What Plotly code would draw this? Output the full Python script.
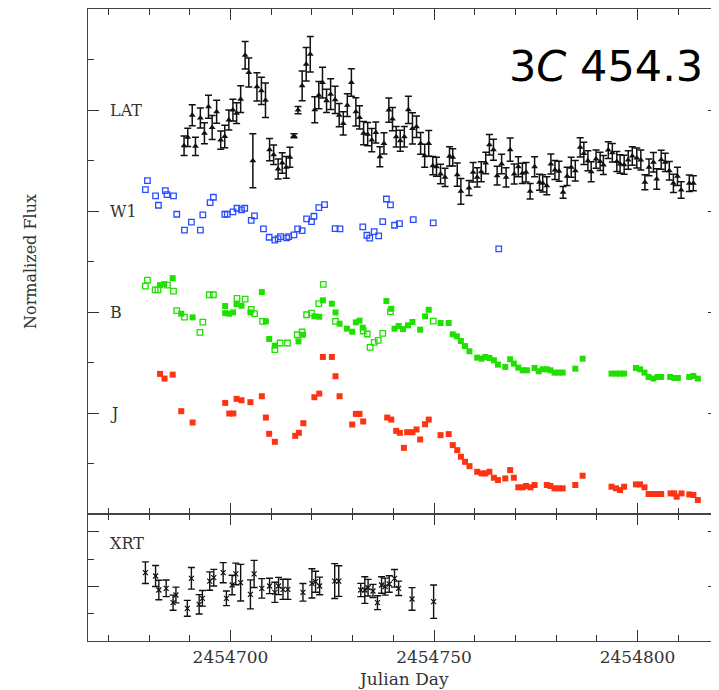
import plotly.graph_objects as go

# ---------------- data (Julian Day, normalized flux offsets) ----------------
lat_jd = [2454688.6, 2454689.5, 2454690.6, 2454691.4, 2454692.6, 2454693.6, 2454694.6, 2454695.5,
          2454696.6, 2454697.6, 2454698.6, 2454699.6, 2454700.6, 2454701.5, 2454702.5, 2454703.6,
          2454704.5, 2454705.5, 2454706.5, 2454707.6, 2454708.6, 2454709.6, 2454710.6, 2454711.7,
          2454712.7, 2454713.7, 2454714.6, 2454715.6, 2454716.6, 2454717.6, 2454718.6, 2454719.6,
          2454720.7, 2454721.7, 2454722.6, 2454723.6, 2454724.6, 2454725.7, 2454726.7, 2454727.7,
          2454728.7, 2454729.7, 2454730.8, 2454731.7, 2454732.7, 2454733.7, 2454734.7, 2454735.7,
          2454736.7, 2454737.7, 2454738.9, 2454739.8, 2454740.7, 2454741.7, 2454742.7, 2454743.7,
          2454744.7, 2454745.7, 2454746.7, 2454747.7, 2454748.7, 2454749.7, 2454750.6, 2454751.6,
          2454752.7, 2454753.8, 2454754.6, 2454755.7, 2454756.6, 2454758.6, 2454759.6, 2454760.6,
          2454761.6, 2454762.7, 2454763.6, 2454764.6, 2454765.5, 2454766.6, 2454767.7, 2454768.7,
          2454769.7, 2454770.7, 2454771.7, 2454772.6, 2454773.6, 2454774.7, 2454775.9, 2454776.7,
          2454777.7, 2454778.7, 2454779.7, 2454780.7, 2454781.7, 2454782.7, 2454783.7, 2454784.7,
          2454785.9, 2454786.8, 2454787.8, 2454788.6, 2454789.8, 2454790.8, 2454791.6, 2454792.8,
          2454793.8, 2454794.9, 2454795.7, 2454796.7, 2454797.7, 2454798.7, 2454799.8, 2454800.8,
          2454801.8, 2454802.8, 2454803.9, 2454804.7, 2454805.8, 2454806.8, 2454807.8, 2454808.8,
          2454809.8, 2454810.7, 2454812.7, 2454813.7]
lat_flux = [3.646, 3.729, 3.949, 3.640, 3.920, 3.771, 4.032, 3.827, 3.982, 3.702, 3.738, 3.900,
            3.999, 3.969, 4.107, 4.542, 4.371, 3.498, 4.229, 4.190, 4.097, 3.607, 3.557, 3.416,
            3.475, 3.432, 3.531, 3.745, 3.999, 4.239, 4.453, 4.552, 4.002, 4.147, 4.272, 4.091,
            4.157, 4.101, 3.949, 3.867, 4.048, 4.272, 3.982, 3.926, 3.771, 3.761, 3.702, 3.778,
            3.538, 3.669, 3.999, 3.910, 3.735, 3.696, 3.735, 4.002, 3.818, 3.834, 3.669, 3.547,
            3.669, 3.449, 3.439, 3.366, 3.333, 3.541, 3.531, 3.360, 3.195, 3.228, 3.383, 3.333,
            3.389, 3.475, 3.656, 3.607, 3.350, 3.465, 3.333, 3.607, 3.366, 3.439, 3.373, 3.383,
            3.195, 3.439, 3.284, 3.274, 3.251, 3.465, 3.406, 3.393, 3.185, 3.343, 3.432, 3.399,
            3.630, 3.570, 3.498, 3.389, 3.514, 3.491, 3.455, 3.603, 3.577, 3.491, 3.465, 3.458,
            3.505, 3.544, 3.524, 3.505, 3.284, 3.432, 3.482, 3.317, 3.508, 3.482, 3.399, 3.274,
            3.343, 3.208, 3.274, 3.274]
lat_err = [0.096, 0.091, 0.104, 0.091, 0.099, 0.104, 0.114, 0.119, 0.114, 0.091, 0.112, 0.099,
           0.107, 0.102, 0.132, 0.137, 0.143, 0.267, 0.140, 0.135, 0.171, 0.110, 0.096, 0.099,
           0.102, 0.107, 0.099, 0.020, 0.036, 0.148, 0.165, 0.176, 0.128, 0.135, 0.152, 0.115,
           0.152, 0.135, 0.115, 0.115, 0.112, 0.137, 0.140, 0.115, 0.115, 0.115, 0.115, 0.104,
           0.099, 0.105, 0.120, 0.115, 0.102, 0.104, 0.102, 0.135, 0.155, 0.107, 0.107, 0.115,
           0.128, 0.091, 0.094, 0.096, 0.091, 0.096, 0.086, 0.115, 0.127, 0.074, 0.096, 0.096,
           0.099, 0.107, 0.102, 0.104, 0.092, 0.096, 0.096, 0.115, 0.099, 0.099, 0.100, 0.096,
           0.077, 0.099, 0.079, 0.086, 0.089, 0.099, 0.094, 0.099, 0.058, 0.091, 0.099, 0.102,
           0.096, 0.110, 0.099, 0.099, 0.091, 0.091, 0.094, 0.082, 0.091, 0.099, 0.091, 0.094,
           0.091, 0.091, 0.099, 0.099, 0.074, 0.082, 0.096, 0.102, 0.094, 0.091, 0.091, 0.091,
           0.091, 0.082, 0.082, 0.074]

w1_jd = [2454679.1, 2454679.6, 2454681.6, 2454682.3, 2454684.0, 2454684.4, 2454686.0, 2454686.8,
         2454688.7, 2454690.4, 2454692.6, 2454693.2, 2454695.0, 2454695.8, 2454698.6, 2454699.2,
         2454700.6, 2454701.6, 2454702.7, 2454703.5, 2454705.1, 2454705.9, 2454708.1, 2454709.5,
         2454710.9, 2454711.7, 2454712.3, 2454713.8, 2454714.3, 2454715.6, 2454716.5, 2454717.6,
         2454718.7, 2454719.9, 2454720.5, 2454721.7, 2454723.1, 2454725.7, 2454726.9, 2454732.5,
         2454733.5, 2454734.2, 2454735.3, 2454736.4, 2454737.4, 2454738.3, 2454739.3, 2454740.3,
         2454741.5, 2454744.9, 2454749.8, 2454765.9]
w1_flux = [3.211, 3.300, 3.149, 3.057, 3.202, 3.162, 3.149, 2.968, 2.810, 2.889, 2.810, 2.961,
           3.083, 3.136, 2.968, 2.968, 2.991, 3.027, 3.011, 3.027, 2.908, 2.951, 2.823, 2.740,
           2.711, 2.727, 2.747, 2.734, 2.747, 2.763, 2.823, 2.806, 2.922, 2.895, 2.948, 3.034,
           3.063, 2.826, 2.823, 2.843, 2.760, 2.731, 2.796, 2.754, 2.895, 3.119, 3.060, 2.859,
           2.875, 2.915, 2.882, 2.625]

b_open_jd = [2454679.1, 2454679.6, 2454681.5, 2454682.2, 2454684.5, 2454686.0, 2454686.8, 2454688.7,
             2454692.5, 2454693.2, 2454694.8, 2454695.8, 2454701.6, 2454703.6, 2454705.1, 2454705.9,
             2454707.9, 2454710.9, 2454712.2, 2454714.0, 2454716.4, 2454717.6, 2454718.7, 2454719.9,
             2454721.7, 2454722.8, 2454725.8, 2454732.6, 2454733.6, 2454734.3, 2454735.3, 2454736.3,
             2454737.4, 2454739.3, 2454749.8]
b_open_flux = [2.256, 2.316, 2.220, 2.220, 2.266, 2.207, 2.013, 1.950, 1.798, 1.900, 2.171, 2.171,
               2.134, 2.128, 2.026, 1.983, 1.907, 1.627, 1.693, 1.693, 1.775, 1.802, 1.973, 1.989,
               2.082, 2.273, 1.907, 1.812, 1.782, 1.650, 1.700, 1.719, 1.789, 2.003, 1.910]

b_fill_jd = [2454682.7, 2454683.7, 2454685.8, 2454687.9, 2454690.7, 2454698.7, 2454698.7, 2454699.7,
             2454700.6, 2454701.5, 2454702.7, 2454704.9, 2454707.7, 2454708.7, 2454709.5, 2454710.9,
             2454716.7, 2454717.8, 2454720.6, 2454721.8, 2454722.7, 2454724.9, 2454725.8, 2454726.8,
             2454728.6, 2454729.9, 2454730.8, 2454731.7, 2454732.5, 2454738.3, 2454739.5, 2454740.3,
             2454741.3, 2454742.4, 2454743.6, 2454744.7, 2454746.6, 2454747.8, 2454748.7, 2454751.6,
             2454753.6, 2454754.6, 2454755.6, 2454756.6, 2454757.6, 2454758.7, 2454760.6, 2454761.7,
             2454762.6, 2454763.6, 2454764.7, 2454765.7, 2454767.5, 2454768.7, 2454769.6, 2454770.7,
             2454771.8, 2454772.8, 2454774.7, 2454775.7, 2454776.7, 2454777.7, 2454778.6, 2454779.6,
             2454780.6, 2454781.6, 2454784.7, 2454786.5, 2454793.6, 2454794.7, 2454795.7, 2454796.7,
             2454799.6, 2454800.6, 2454801.7, 2454802.7, 2454803.9, 2454804.9, 2454805.8, 2454808.0,
             2454809.0, 2454809.9, 2454812.7, 2454813.7, 2454814.8]
b_fill_flux = [2.266, 2.276, 2.335, 1.983, 1.947, 2.059, 1.989, 1.983, 1.996, 2.078, 2.062, 1.996,
               2.197, 1.907, 1.733, 1.667, 1.709, 1.775, 1.957, 1.953, 2.115, 2.082, 1.996, 1.884,
               1.835, 1.805, 1.897, 1.914, 1.845, 2.108, 2.032, 1.835, 1.861, 1.831, 1.868, 1.901,
               1.825, 1.957, 2.022, 1.891, 1.891, 1.779, 1.759, 1.713, 1.663, 1.611, 1.548, 1.538,
               1.555, 1.545, 1.522, 1.479, 1.456, 1.532, 1.489, 1.449, 1.423, 1.423, 1.446, 1.413,
               1.433, 1.433, 1.423, 1.400, 1.400, 1.400, 1.439, 1.538, 1.390, 1.390, 1.390, 1.390,
               1.446, 1.433, 1.400, 1.357, 1.341, 1.357, 1.357, 1.357, 1.347, 1.347, 1.357, 1.367,
               1.341]

j_jd = [2454682.7, 2454683.8, 2454685.8, 2454687.9, 2454690.7, 2454698.7, 2454699.7, 2454700.7,
        2454701.5, 2454702.7, 2454704.9, 2454707.7, 2454708.7, 2454709.5, 2454710.9, 2454715.9,
        2454716.8, 2454717.9, 2454720.6, 2454721.8, 2454722.7, 2454724.9, 2454725.8, 2454726.8,
        2454729.9, 2454730.8, 2454731.7, 2454732.6, 2454738.5, 2454739.5, 2454740.7, 2454741.6,
        2454742.6, 2454743.4, 2454744.7, 2454745.7, 2454746.6, 2454747.8, 2454748.7, 2454751.6,
        2454753.6, 2454754.6, 2454755.7, 2454756.6, 2454757.6, 2454758.7, 2454760.6, 2454761.7,
        2454762.6, 2454763.6, 2454764.7, 2454765.7, 2454767.5, 2454768.7, 2454769.6, 2454770.7,
        2454771.8, 2454772.6, 2454773.7, 2454774.7, 2454777.7, 2454778.6, 2454779.6, 2454780.6,
        2454781.6, 2454784.7, 2454786.5, 2454793.6, 2454794.7, 2454795.7, 2454796.7, 2454799.6,
        2454800.6, 2454801.7, 2454802.7, 2454803.9, 2454804.9, 2454805.8, 2454808.1, 2454809.0,
        2454809.6, 2454810.8, 2454812.7, 2454813.7, 2454814.8]
j_flux = [1.387, 1.341, 1.380, 1.018, 0.906, 1.100, 0.995, 0.995, 1.140, 1.126, 1.107, 1.166,
          0.955, 0.794, 0.715, 0.774, 0.804, 0.899, 1.156, 1.192, 1.555, 1.555, 1.364, 1.166,
          0.886, 0.991, 0.991, 0.916, 0.955, 0.935, 0.823, 0.804, 0.655, 0.810, 0.810, 0.837,
          0.738, 0.889, 0.935, 0.781, 0.791, 0.682, 0.632, 0.567, 0.517, 0.474, 0.418, 0.402,
          0.402, 0.418, 0.359, 0.336, 0.352, 0.435, 0.359, 0.264, 0.264, 0.277, 0.264, 0.287,
          0.287, 0.277, 0.254, 0.254, 0.254, 0.287, 0.379, 0.270, 0.254, 0.237, 0.270, 0.293,
          0.293, 0.264, 0.198, 0.198, 0.198, 0.198, 0.204, 0.204, 0.171, 0.204, 0.194, 0.188,
          0.138]

xrt_jd = [2454679.1, 2454681.6, 2454682.4, 2454684.2, 2454685.9, 2454686.6, 2454689.4, 2454690.4,
          2454692.3, 2454693.1, 2454694.9, 2454695.9, 2454698.2, 2454699.0, 2454700.4, 2454701.3,
          2454702.5, 2454704.9, 2454705.8, 2454707.7, 2454709.6, 2454710.9, 2454711.8, 2454712.9,
          2454714.1, 2454717.8, 2454720.0, 2454720.9, 2454721.9, 2454725.6, 2454726.6, 2454732.0,
          2454733.0, 2454733.8, 2454735.0, 2454736.1, 2454737.1, 2454738.0, 2454739.0, 2454740.3,
          2454741.3, 2454744.6, 2454749.9]
xrt_flux = [0.626, 0.595, 0.467, 0.482, 0.351, 0.421, 0.299, 0.574, 0.336, 0.391, 0.549, 0.580,
            0.626, 0.391, 0.513, 0.614, 0.534, 0.427, 0.614, 0.482, 0.504, 0.446, 0.504, 0.473,
            0.473, 0.446, 0.528, 0.543, 0.504, 0.549, 0.549, 0.467, 0.467, 0.488, 0.458, 0.351,
            0.513, 0.498, 0.522, 0.574, 0.482, 0.385, 0.360]
xrt_err = [0.099, 0.096, 0.089, 0.076, 0.069, 0.072, 0.073, 0.099, 0.089, 0.072, 0.084, 0.076,
           0.092, 0.067, 0.089, 0.099, 0.168, 0.133, 0.124, 0.089, 0.070, 0.092, 0.079, 0.092,
           0.092, 0.081, 0.134, 0.096, 0.081, 0.160, 0.140, 0.061, 0.122, 0.076, 0.061, 0.064,
           0.076, 0.078, 0.076, 0.081, 0.066, 0.104, 0.153]

band_labels = ["LAT", "W1", "B", "J"]
band_label_pos = [4, 3, 2, 1]
x_range = [2454665, 2454820]

# ---------------- figure ----------------
BLUE = "#2a4cff"
GREEN = "#1fe000"
RED = "#ff3311"
SERIF = "DejaVu Serif"

# the page puts the figure 8 px in from the top-left corner, so the figure is sized for that
FIG_W, FIG_H = 711, 682
M_L, M_R, M_T, M_B = 80, 0, 1, 49
PLOT_H = FIG_H - M_T - M_B          # 632
split = 127 / PLOT_H

fig = go.Figure()

fig.add_trace(go.Scatter(
    x=lat_jd, y=lat_flux, mode="markers",
    marker=dict(symbol="triangle-up", size=6, color="#111"),
    error_y=dict(type="data", array=lat_err, color="#111", thickness=1.5, width=3.5),
    xaxis="x", yaxis="y", showlegend=False))

fig.add_trace(go.Scatter(
    x=w1_jd, y=w1_flux, mode="markers",
    marker=dict(symbol="square-open", size=5.5, color=BLUE, line=dict(width=1.3)),
    xaxis="x", yaxis="y", showlegend=False))

fig.add_trace(go.Scatter(
    x=b_open_jd, y=b_open_flux, mode="markers",
    marker=dict(symbol="square-open", size=5.5, color=GREEN, line=dict(width=1.3)),
    xaxis="x", yaxis="y", showlegend=False))

fig.add_trace(go.Scatter(
    x=b_fill_jd, y=b_fill_flux, mode="markers",
    marker=dict(symbol="square", size=6, color=GREEN),
    xaxis="x", yaxis="y", showlegend=False))

fig.add_trace(go.Scatter(
    x=j_jd, y=j_flux, mode="markers",
    marker=dict(symbol="square", size=6, color=RED),
    xaxis="x", yaxis="y", showlegend=False))

fig.add_trace(go.Scatter(
    x=xrt_jd, y=xrt_flux, mode="markers",
    marker=dict(symbol="x-thin-open", size=5, color="#111", line=dict(width=1.2, color="#111")),
    error_y=dict(type="data", array=xrt_err, color="#111", thickness=1.4, width=3.5),
    xaxis="x2", yaxis="y2", showlegend=False))

axis_common = dict(showgrid=False, zeroline=False, showline=True, linecolor="#444", linewidth=1.2,
                   ticks="inside", tickcolor="#333", tickwidth=1.2, ticklen=11, mirror="ticks")
minor_x = dict(dtick=10, ticklen=6, tickcolor="#333", tickwidth=1.2, ticks="inside")

fig.update_layout(
    width=FIG_W, height=FIG_H,
    margin=dict(l=M_L, r=M_R, t=M_T, b=M_B),
    paper_bgcolor="white", plot_bgcolor="white",
    font=dict(family=SERIF, color="#333"),
    xaxis=dict(range=x_range, anchor="y", domain=[0, 1], tick0=2454700, dtick=50,
               showticklabels=False, minor=minor_x, **axis_common),
    xaxis2=dict(range=x_range, anchor="y2", domain=[0, 1], tick0=2454700, dtick=50,
                showticklabels=True, tickformat="d",
                tickfont=dict(size=17, family=SERIF, color="#333"),
                minor=minor_x, **axis_common),
    yaxis=dict(range=[0, 5], anchor="x", domain=[split, 1], tick0=0, dtick=1, showticklabels=False,
               minor=dict(dtick=0.5, ticklen=6, tickcolor="#333", tickwidth=1.2, ticks="inside"),
               **axis_common),
    yaxis2=dict(range=[0, 127 / 109.2], anchor="x2", domain=[0, split], tick0=0, dtick=0.5,
                showticklabels=False,
                minor=dict(dtick=0.25, ticklen=6, tickcolor="#333", tickwidth=1.2, ticks="inside"),
                **axis_common),
)

PW = FIG_W - M_L - M_R  # 631


def px(sx):
    return (sx - 88) / PW


def py(sy):
    return (641 - sy) / PLOT_H


annotations = []
for lab, pos in zip(band_labels, band_label_pos):
    annotations.append(dict(text=lab, xref="paper", yref="y", x=px(108), y=pos, xanchor="left",
                            yanchor="middle", showarrow=False,
                            font=dict(family=SERIF, size=16, color="#333")))
annotations.append(dict(text="XRT", xref="paper", yref="y2", x=px(108), y=0.89, xanchor="left",
                        yanchor="middle", showarrow=False, font=dict(family=SERIF, size=16, color="#333")))
annotations.append(dict(text="3<i>C</i> 454.3", xref="paper", yref="paper", x=px(705),
                        y=py(66), xanchor="right", yanchor="middle", showarrow=False,
                        font=dict(family="DejaVu Sans", size=43, color="black")))
annotations.append(dict(text="Julian Day", xref="paper", yref="paper", x=px(403),
                        y=py(679), xanchor="center", yanchor="middle", showarrow=False,
                        font=dict(family=SERIF, size=17, color="#333")))
annotations.append(dict(text="Normalized Flux", xref="paper", yref="paper", x=px(30),
                        y=py(262), xanchor="center", yanchor="middle", showarrow=False,
                        textangle=-90, font=dict(family=SERIF, size=16, color="#333")))
fig.update_layout(annotations=annotations)

fig.write_html("out.html")
